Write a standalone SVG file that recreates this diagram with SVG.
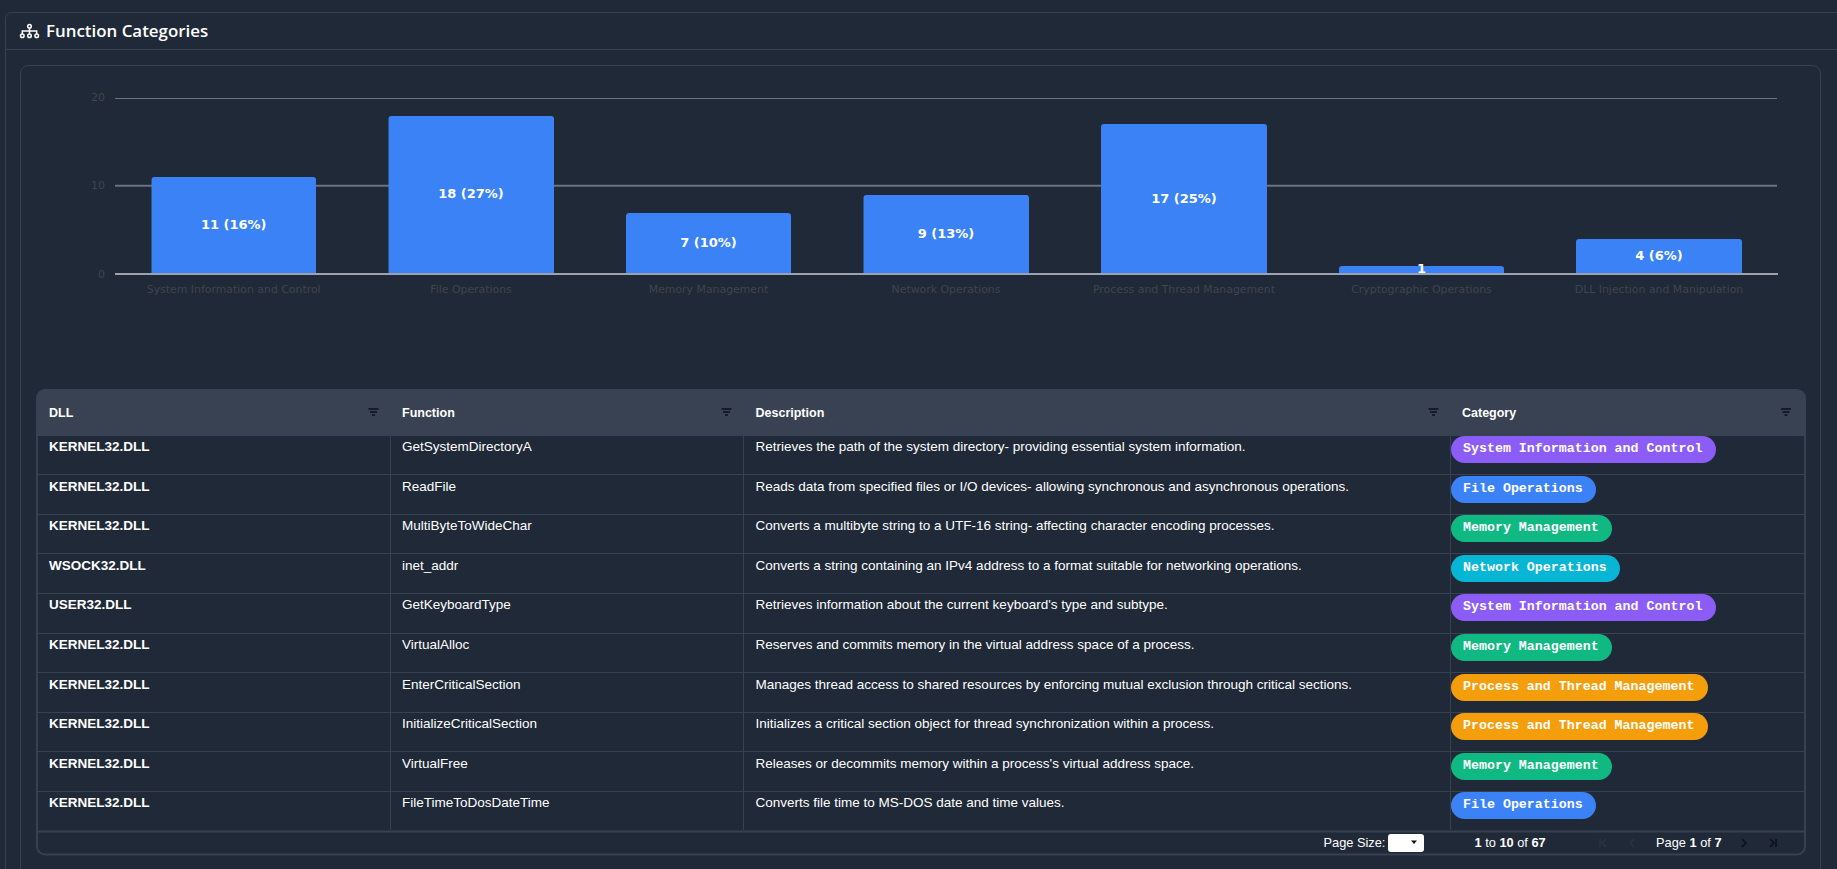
<svg xmlns="http://www.w3.org/2000/svg" width="1837" height="869" viewBox="0 0 1837 869">
<style>
.card{fill:#1f2937;stroke:#374151;stroke-width:1}
.bar{fill:#3b82f6}
.grid{stroke:#6b7280;fill:none}
.ax{font:10.9px "DejaVu Sans",sans-serif;fill:#40454e;text-anchor:middle}
.ay{font:11px "DejaVu Sans",sans-serif;fill:#40454e;text-anchor:end}
.bl{font:bold 13px "DejaVu Sans",sans-serif;fill:#fff;text-anchor:middle}
.h{font:bold 12.5px "Liberation Sans",Arial,sans-serif;fill:#fff}
.d{font:bold 13.5px "Liberation Sans",Arial,sans-serif;fill:#fff}
.t{font:13.5px "Liberation Sans",Arial,sans-serif;fill:#fff}
.p{font:bold 13.3px "Liberation Mono",monospace;fill:#fff}
.sep{stroke:#374151;stroke-width:1;fill:none}
.fi{stroke:#0b0f17;stroke-width:1.4;fill:none}
.pg{font:12.8px "Liberation Sans",Arial,sans-serif;fill:#fff}
.purple{fill:#8b5cf6}.blue{fill:#3b82f6}.green{fill:#10b981}.cyan{fill:#06b6d4}.orange{fill:#f59e0b}
</style>
<defs>
<path id="fil" class="fi" d="M-5 -3H5M-3.5 0H3.5M-1.5 3H1.5"/>
</defs>
<rect width="1837" height="869" fill="#1f2937"/>
<g id="panel">
<rect class="card" x="5.5" y="12.5" width="1860" height="900" rx="6"/>
<path class="sep" d="M5.5 49.5H1837"/>
<g fill="none" stroke="#fff" stroke-width="1.5">
<circle cx="29.5" cy="26.3" r="1.8"/><circle cx="22.3" cy="35.7" r="1.8"/><circle cx="29.5" cy="35.7" r="1.8"/><circle cx="36.7" cy="35.7" r="1.8"/>
<path d="M29.5 28.2V33.8M22.3 33.8V31H36.7V33.8"/>
</g>
<text x="46" y="37" font-family="'Open Sans',sans-serif" font-size="16.9" font-weight="600" fill="#fff">Function Categories</text>
</g>
<g id="chart">
<rect class="card" x="20.5" y="65.5" width="1800" height="840" rx="8"/>
<path class="grid" d="M115 98.5H1777"/>
<path class="grid" stroke-width="2" d="M115 185.7H1777"/>
<path d="M115 274H1778" stroke="#9ca3af" stroke-width="2"/>
<text class="ay" x="105" y="101">20</text>
<text class="ay" x="105" y="189">10</text>
<text class="ay" x="105" y="278">0</text>
<g id="bar-1"><path class="bar" d="M151.5 273V180a3 3 0 0 1 3-3H313a3 3 0 0 1 3 3V273Z"/><text class="bl" x="233.7" y="229">11 (16%)</text><text class="ax" x="233.7" y="293">System Information and Control</text></g>
<g id="bar-2"><path class="bar" d="M388.5 273V119a3 3 0 0 1 3-3H551a3 3 0 0 1 3 3V273Z"/><text class="bl" x="471" y="197.5">18 (27%)</text><text class="ax" x="471" y="293">File Operations</text></g>
<g id="bar-3"><path class="bar" d="M626 273V216a3 3 0 0 1 3-3H788a3 3 0 0 1 3 3V273Z"/><text class="bl" x="708.5" y="246.5">7 (10%)</text><text class="ax" x="708.5" y="293">Memory Management</text></g>
<g id="bar-4"><path class="bar" d="M863.5 273V198a3 3 0 0 1 3-3H1026a3 3 0 0 1 3 3V273Z"/><text class="bl" x="946" y="238">9 (13%)</text><text class="ax" x="946" y="293">Network Operations</text></g>
<g id="bar-5"><path class="bar" d="M1101 273V127a3 3 0 0 1 3-3H1264a3 3 0 0 1 3 3V273Z"/><text class="bl" x="1184" y="203">17 (25%)</text><text class="ax" x="1184" y="293">Process and Thread Management</text></g>
<g id="bar-6"><path class="bar" d="M1339 273V269a3 3 0 0 1 3-3H1501a3 3 0 0 1 3 3V273Z"/><text class="bl" x="1421.5" y="273">1</text><text class="ax" x="1421.5" y="293">Cryptographic Operations</text></g>
<g id="bar-7"><path class="bar" d="M1576 273V242a3 3 0 0 1 3-3H1739a3 3 0 0 1 3 3V273Z"/><text class="bl" x="1659" y="260">4 (6%)</text><text class="ax" x="1659" y="293">DLL Injection and Manipulation</text></g>
</g>
<g id="table">
<path d="M37 435.5V398a8 8 0 0 1 8-8H1797a8 8 0 0 1 8 8V435.5Z" fill="#394252"/>
<rect x="37" y="390" width="1768" height="464.5" rx="8" fill="none" stroke="#374151" stroke-width="2"/>
<path class="sep" d="M37 435.5H1805M37 474.5H1804M37 514.5H1804M37 553.5H1804M37 593.5H1804M37 633.5H1804M37 672.5H1804M37 712.5H1804M37 751.5H1804M37 791.5H1804"/>
<path d="M37 831.5H1804" stroke="#374151" stroke-width="2"/>
<path class="sep" stroke="#4b5563" d="M390.5 392V434M743.5 392V434M1450.5 392V434"/>
<path class="sep" d="M390.5 436V830M743.5 436V830M1450.5 436V830"/>
<g id="table-header">
<text class="h" x="49" y="417">DLL</text><use href="#fil" x="373.5" y="412"/>
<text class="h" x="402" y="417">Function</text><use href="#fil" x="726.5" y="412"/>
<text class="h" x="755.5" y="417">Description</text><use href="#fil" x="1433.5" y="412"/>
<text class="h" x="1462" y="417">Category</text><use href="#fil" x="1786" y="412"/>
</g>
<g id="row-1"><text class="d" x="49" y="451">KERNEL32.DLL</text><text class="t" x="402" y="451">GetSystemDirectoryA</text><text class="t" x="755.5" y="451">Retrieves the path of the system directory- providing essential system information.</text><rect class="purple" x="1451" y="436" width="265" height="27" rx="13.5"/><text class="p" x="1463" y="452">System Information and Control</text></g>
<g id="row-2"><text class="d" x="49" y="491">KERNEL32.DLL</text><text class="t" x="402" y="491">ReadFile</text><text class="t" x="755.5" y="491">Reads data from specified files or I/O devices- allowing synchronous and asynchronous operations.</text><rect class="blue" x="1451" y="476" width="145" height="27" rx="13.5"/><text class="p" x="1463" y="492">File Operations</text></g>
<g id="row-3"><text class="d" x="49" y="530">KERNEL32.DLL</text><text class="t" x="402" y="530">MultiByteToWideChar</text><text class="t" x="755.5" y="530">Converts a multibyte string to a UTF-16 string- affecting character encoding processes.</text><rect class="green" x="1451" y="515" width="161" height="27" rx="13.5"/><text class="p" x="1463" y="531">Memory Management</text></g>
<g id="row-4"><text class="d" x="49" y="570">WSOCK32.DLL</text><text class="t" x="402" y="570">inet_addr</text><text class="t" x="755.5" y="570">Converts a string containing an IPv4 address to a format suitable for networking operations.</text><rect class="cyan" x="1451" y="555" width="169" height="27" rx="13.5"/><text class="p" x="1463" y="571">Network Operations</text></g>
<g id="row-5"><text class="d" x="49" y="609">USER32.DLL</text><text class="t" x="402" y="609">GetKeyboardType</text><text class="t" x="755.5" y="609">Retrieves information about the current keyboard's type and subtype.</text><rect class="purple" x="1451" y="594" width="265" height="27" rx="13.5"/><text class="p" x="1463" y="610">System Information and Control</text></g>
<g id="row-6"><text class="d" x="49" y="649">KERNEL32.DLL</text><text class="t" x="402" y="649">VirtualAlloc</text><text class="t" x="755.5" y="649">Reserves and commits memory in the virtual address space of a process.</text><rect class="green" x="1451" y="634" width="161" height="27" rx="13.5"/><text class="p" x="1463" y="650">Memory Management</text></g>
<g id="row-7"><text class="d" x="49" y="689">KERNEL32.DLL</text><text class="t" x="402" y="689">EnterCriticalSection</text><text class="t" x="755.5" y="689">Manages thread access to shared resources by enforcing mutual exclusion through critical sections.</text><rect class="orange" x="1451" y="674" width="257" height="27" rx="13.5"/><text class="p" x="1463" y="690">Process and Thread Management</text></g>
<g id="row-8"><text class="d" x="49" y="728">KERNEL32.DLL</text><text class="t" x="402" y="728">InitializeCriticalSection</text><text class="t" x="755.5" y="728">Initializes a critical section object for thread synchronization within a process.</text><rect class="orange" x="1451" y="713" width="257" height="27" rx="13.5"/><text class="p" x="1463" y="729">Process and Thread Management</text></g>
<g id="row-9"><text class="d" x="49" y="768">KERNEL32.DLL</text><text class="t" x="402" y="768">VirtualFree</text><text class="t" x="755.5" y="768">Releases or decommits memory within a process's virtual address space.</text><rect class="green" x="1451" y="753" width="161" height="27" rx="13.5"/><text class="p" x="1463" y="769">Memory Management</text></g>
<g id="row-10"><text class="d" x="49" y="807">KERNEL32.DLL</text><text class="t" x="402" y="807">FileTimeToDosDateTime</text><text class="t" x="755.5" y="807">Converts file time to MS-DOS date and time values.</text><rect class="blue" x="1451" y="792" width="145" height="27" rx="13.5"/><text class="p" x="1463" y="808">File Operations</text></g>
<g id="pagination">
<text class="pg" x="1323.5" y="847">Page Size:</text>
<rect x="1388" y="834" width="36" height="18" rx="3" fill="#fff"/>
<path d="M1411 840.5H1417L1414 844Z" fill="#111"/>
<text class="pg" x="1474.5" y="847"><tspan font-weight="bold">1</tspan> to <tspan font-weight="bold">10</tspan> of <tspan font-weight="bold">67</tspan></text>
<text class="pg" x="1656" y="847">Page <tspan font-weight="bold">1</tspan> of <tspan font-weight="bold">7</tspan></text>
<g fill="none" stroke-width="1.5">
<path d="M1600 839V847M1606 839L1602 843L1606 847" stroke="#2b3442"/>
<path d="M1634 839L1630 843L1634 847" stroke="#2b3442"/>
<path d="M1742 839L1746 843L1742 847" stroke="#0b0f17"/>
<path d="M1770 839L1774 843L1770 847M1776 839V847" stroke="#0b0f17"/>
</g>
</g>
</g>
</svg>
